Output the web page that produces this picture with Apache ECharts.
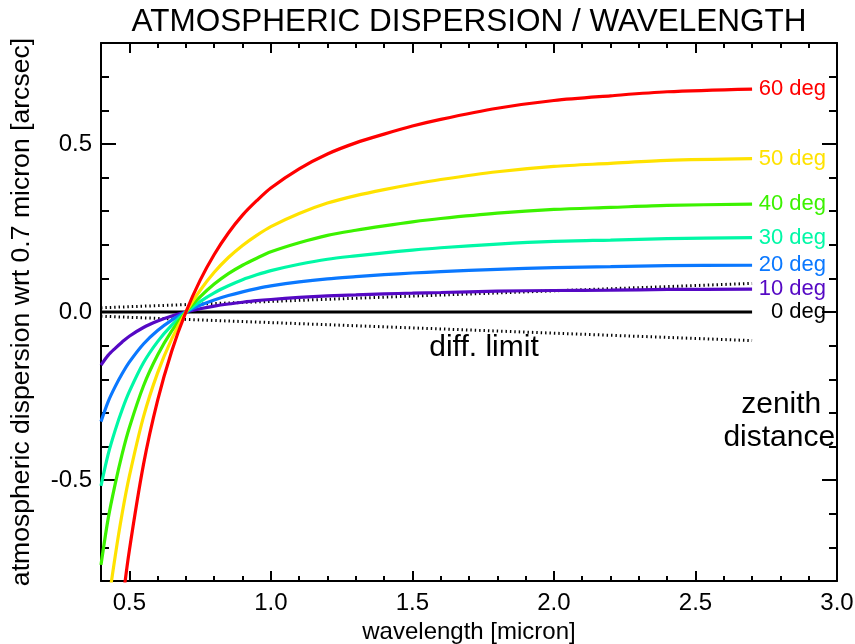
<!DOCTYPE html>
<html>
<head>
<meta charset="utf-8">
<title>Atmospheric dispersion / wavelength</title>
<script src="https://cdn.jsdelivr.net/npm/echarts@6/dist/echarts.min.js"></script>
<style>
  html, body { margin: 0; padding: 0; background: #ffffff; }
  #chart { width: 855px; height: 644px; }
</style>
</head>
<body>
<div id="chart"></div>
<script>
// Wavelength samples (micron) shared by all dispersion curves
const wavelength = [0.40, 0.425, 0.45, 0.475, 0.50, 0.55, 0.60, 0.65, 0.70, 0.75, 0.80, 0.85, 0.90, 0.95,
                    1.00, 1.10, 1.20, 1.30, 1.40, 1.50, 1.60, 1.80, 2.00, 2.20, 2.40, 2.70];

// Dispersion relative to 0.7 micron (arcsec), one array per zenith distance
const deg0  = [0, 0, 0, 0, 0, 0, 0, 0, 0, 0, 0, 0, 0, 0,
               0, 0, 0, 0, 0, 0, 0, 0, 0, 0, 0, 0];
const deg10 = [-0.158, -0.129, -0.108, -0.089, -0.072, -0.046, -0.027, -0.012, 0, 0.0095, 0.0175, 0.0238, 0.029, 0.0336,
               0.0372, 0.0433, 0.048, 0.051, 0.054, 0.056, 0.058, 0.062, 0.064, 0.065, 0.067, 0.068];
const deg20 = [-0.326, -0.267, -0.222, -0.183, -0.149, -0.095, -0.055, -0.024, 0, 0.020, 0.036, 0.049, 0.060, 0.0695,
               0.0775, 0.0895, 0.0985, 0.105, 0.111, 0.116, 0.120, 0.127, 0.132, 0.135, 0.138, 0.139];
const deg30 = [-0.517, -0.424, -0.352, -0.290, -0.237, -0.151, -0.088, -0.039, 0, 0.031, 0.057, 0.078, 0.096, 0.1105,
               0.123, 0.142, 0.157, 0.167, 0.176, 0.184, 0.191, 0.202, 0.210, 0.214, 0.218, 0.221];
const deg40 = [-0.752, -0.616, -0.512, -0.421, -0.344, -0.220, -0.128, -0.056, 0, 0.045, 0.083, 0.114, 0.139, 0.160,
               0.179, 0.206, 0.228, 0.243, 0.256, 0.268, 0.278, 0.294, 0.305, 0.311, 0.317, 0.321];
const deg50 = [-1.068, -0.875, -0.727, -0.598, -0.489, -0.312, -0.181, -0.080, 0, 0.064, 0.118, 0.162, 0.198, 0.228,
               0.254, 0.293, 0.324, 0.346, 0.364, 0.380, 0.394, 0.417, 0.433, 0.442, 0.451, 0.456];
const deg60 = [-1.552, -1.271, -1.057, -0.870, -0.710, -0.454, -0.263, -0.116, 0, 0.094, 0.171, 0.235, 0.288, 0.331,
               0.369, 0.426, 0.470, 0.503, 0.529, 0.553, 0.573, 0.606, 0.629, 0.643, 0.655, 0.663];

// Diffraction limit (arcsec) at the two ends of the wavelength range
const diffWave  = [0.40, 2.70];
const diffLimit = [0.0126, 0.085];

// Tick values
const xMajorTicks = [0.5, 1.0, 1.5, 2.0, 2.5, 3.0];
const yMajorTicks = [-0.5, 0.0, 0.5];

const curveNames  = ['60 deg', '50 deg', '40 deg', '30 deg', '20 deg', '10 deg', '0 deg'];
const curveValues = [deg60, deg50, deg40, deg30, deg20, deg10, deg0];
const curveColors = ['#ff0000', '#ffe200', '#3cf200', '#00f8a6', '#0a78ff', '#5508c4', '#000000'];

const FONT = '"Liberation Sans", Arial, Helvetica, sans-serif';

function steps(from, to, step) {
  const out = [];
  const n = Math.round((to - from) / step);
  for (let i = 0; i <= n; i++) out.push(+(from + i * step).toFixed(2));
  return out;
}
const xMinorTicks = steps(0.4, 3.0, 0.1);
const yMinorTicks = steps(-0.8, 0.8, 0.1);

function pairs(xs, ys) { return xs.map((x, i) => [x, ys[i]]); }

const frame = { show: true, onZero: false, lineStyle: { color: '#000', width: 2 } };
const noLine = { show: false, onZero: false };
const tickStyle = { color: '#000', width: 2 };

function xAxisDef(position, values, len, withLine, withLabels) {
  const ax = {
    type: 'value', min: 0.4, max: 3.0, position: position,
    axisLine: withLine ? frame : noLine,
    axisTick: { show: true, inside: true, length: len, customValues: values, lineStyle: tickStyle },
    axisLabel: { show: false },
    splitLine: { show: false }
  };
  if (withLabels) {
    ax.axisLabel = {
      show: true, customValues: xMajorTicks, margin: 10,
      color: '#000', fontSize: 24, fontFamily: FONT,
      formatter: v => v.toFixed(1)
    };
    ax.name = 'wavelength [micron]';
    ax.nameLocation = 'middle';
    ax.nameGap = 38;
    ax.nameTextStyle = { color: '#000', fontSize: 24, fontFamily: FONT };
  }
  return ax;
}

function yAxisDef(position, values, len, withLine, withLabels) {
  const ax = {
    type: 'value', min: -0.8, max: 0.8, position: position,
    axisLine: withLine ? frame : noLine,
    axisTick: { show: true, inside: true, length: len, customValues: values, lineStyle: tickStyle },
    axisLabel: { show: false },
    splitLine: { show: false }
  };
  if (withLabels) {
    ax.axisLabel = {
      show: true, customValues: yMajorTicks, margin: 9,
      color: '#000', fontSize: 24, fontFamily: FONT,
      formatter: v => v.toFixed(1)
    };
    ax.name = 'atmospheric dispersion wrt 0.7 micron [arcsec]';
    ax.nameLocation = 'middle';
    ax.nameRotate = 90;
    ax.nameGap = 66;
    ax.nameTextStyle = { color: '#000', fontSize: 26.6, fontFamily: FONT };
  }
  return ax;
}

const series = curveNames.map((name, i) => ({
  name: name,
  type: 'line',
  data: pairs(wavelength, curveValues[i]),
  showSymbol: false,
  symbol: 'none',
  smooth: 0.3,
  clip: true,
  lineStyle: { color: curveColors[i], width: 3.2 },
  endLabel: {
    show: true,
    formatter: name,
    color: curveColors[i],
    fontSize: 22,
    fontFamily: FONT,
    align: 'right',
    verticalAlign: 'middle',
    distance: 74
  },
  z: 3 + (curveNames.length - i)
}));

// diffraction-limit envelope (dotted)
series.push({
  type: 'line', data: pairs(diffWave, diffLimit), symbol: 'none', clip: true,
  lineStyle: { color: '#000', width: 3, type: [1.4, 3] }, z: 2
});
series.push({
  type: 'line', data: pairs(diffWave, diffLimit.map(v => -v)), symbol: 'none', clip: true,
  lineStyle: { color: '#000', width: 3, type: [1.4, 3] }, z: 2
});

// text annotations placed in data coordinates
series.push({
  type: 'scatter', symbolSize: 0, silent: true, clip: false,
  label: {
    show: true, position: 'inside', color: '#000', fontSize: 30, fontFamily: FONT,
    textBorderWidth: 0, opacity: 1
  },
  itemStyle: { opacity: 1 },
  data: [
    { value: [1.753, -0.107], label: { formatter: 'diff. limit' } },
    { value: [2.803, -0.277], label: { formatter: 'zenith' } },
    { value: [2.796, -0.375], label: { formatter: 'distance' } }
  ]
});

const chart = echarts.init(document.getElementById('chart'), null, { renderer: 'canvas' });
chart.setOption({
  animation: false,
  backgroundColor: '#ffffff',
  graphic: [{
    type: 'text', x: 469, y: 6, silent: true,
    style: {
      text: 'ATMOSPHERIC DISPERSION / WAVELENGTH',
      fill: '#000', fontSize: 31.5, fontFamily: FONT,
      textAlign: 'center', textVerticalAlign: 'top'
    }
  }],
  grid: { left: 101, right: 18, top: 43, bottom: 63, containLabel: false, outerBoundsMode: 'none' },
  xAxis: [
    xAxisDef('bottom', xMinorTicks, 5, true, true),
    xAxisDef('bottom', xMajorTicks, 10, false, false),
    xAxisDef('top', xMinorTicks, 5, true, false),
    xAxisDef('top', xMajorTicks, 10, false, false)
  ],
  yAxis: [
    yAxisDef('left', yMinorTicks, 8, true, true),
    yAxisDef('left', yMajorTicks, 15, false, false),
    yAxisDef('right', yMinorTicks, 8, true, false),
    yAxisDef('right', yMajorTicks, 15, false, false)
  ],
  series: series
});
</script>
</body>
</html>
